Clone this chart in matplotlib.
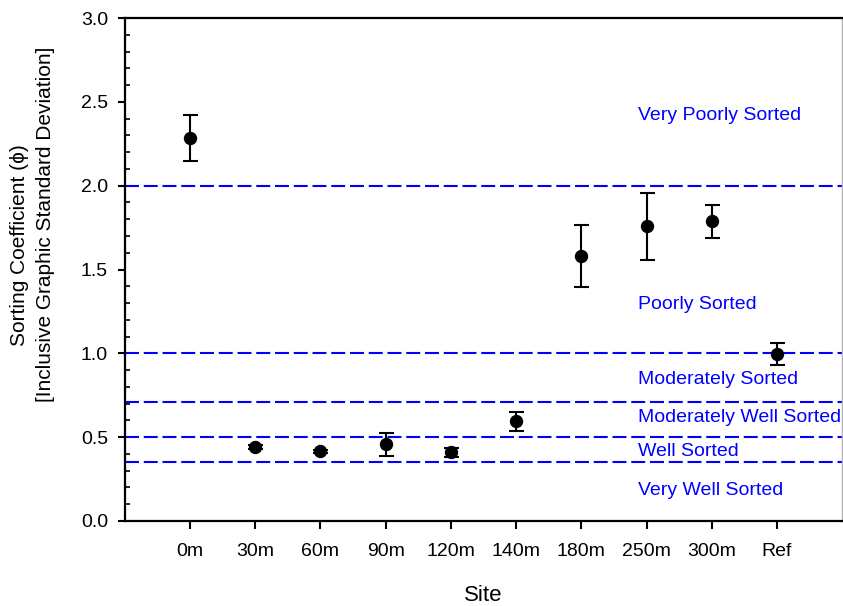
import numpy as np
import matplotlib.pyplot as plt
from matplotlib.ticker import MultipleLocator, FormatStrFormatter

plt.rcParams['font.family'] = ['Liberation Sans', 'DejaVu Sans']

# site labels and measured sorting coefficients
sites = ['0m', '30m', '60m', '90m', '120m', '140m', '180m', '250m', '300m', 'Ref']
sorting = [2.285, 0.442, 0.415, 0.458, 0.408, 0.594, 1.580, 1.759, 1.789, 0.996]
sorting_err = [0.137, 0.012, 0.010, 0.068, 0.028, 0.058, 0.187, 0.200, 0.098, 0.068]

# class boundaries (phi) and class names
bounds = [2.0, 1.0, 0.71, 0.5, 0.35]
classes = ['Very Poorly Sorted', 'Poorly Sorted', 'Moderately Sorted',
           'Moderately Well Sorted', 'Well Sorted', 'Very Well Sorted']
class_y = [2.42, 1.29, 0.843, 0.616, 0.412, 0.18]

fig = plt.figure(figsize=(8.43, 6.06), dpi=100)
ax = fig.add_axes([0.148, 0.1405, 0.851, 0.8295])

x = np.arange(1, len(sites) + 1)

for b in bounds:
    ax.axhline(b, color='#0000ff', lw=1.5, dashes=(6.7, 2.3), zorder=1)

ax.errorbar(x, sorting, yerr=sorting_err, fmt='o', color='black', ms=8.6,
            elinewidth=1.5, capsize=5.4, capthick=1.5, zorder=3)

for name, yv in zip(classes, class_y):
    ax.text(7.876, yv, name, color='#0000ff', fontsize=14, va='center', ha='left')

ax.set_xlim(0, 11)
ax.set_ylim(0, 3.0)
ax.set_xticks(x)
ax.set_xticklabels(sites, fontsize=14)
ax.yaxis.set_major_locator(MultipleLocator(0.5))
ax.yaxis.set_minor_locator(MultipleLocator(0.1))
ax.yaxis.set_major_formatter(FormatStrFormatter('%.1f'))
ax.tick_params(axis='y', labelsize=14)

ax.tick_params(axis='y', which='major', direction='out', length=5, width=1.5, pad=7)
ax.tick_params(axis='y', which='minor', direction='in', length=3.5, width=1.2)
ax.tick_params(axis='x', which='major', direction='out', length=6, width=1.5, pad=10)

for s in ['left', 'bottom', 'top']:
    ax.spines[s].set_linewidth(1.6)
ax.spines['right'].set_color('#b0b0b0')
ax.spines['right'].set_linewidth(1.0)

ax.set_xlabel('Site', fontsize=16, labelpad=18)

fig.text(20 / 843, 1 - 245 / 606, 'Sorting Coefficient (\u03d5)', rotation=90,
         fontsize=15, ha='center', va='center')
fig.text(46 / 843, 1 - 224 / 606, '[Inclusive Graphic Standard Deviation]', rotation=90,
         fontsize=15, ha='center', va='center')

fig.savefig('out.png', dpi=100)
